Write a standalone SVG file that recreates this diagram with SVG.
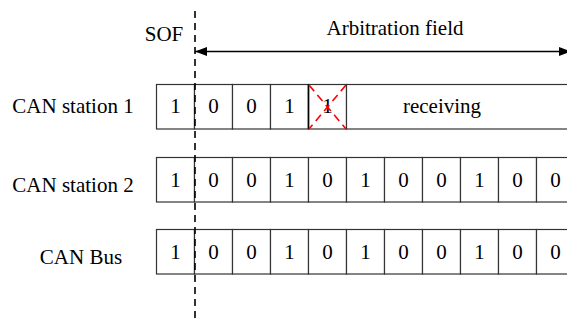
<svg xmlns="http://www.w3.org/2000/svg" width="567" height="322" viewBox="0 0 567 322">
<style>
  .t { font-family: "Liberation Serif", "Times New Roman", Tinos, "Nimbus Roman", "DejaVu Serif", serif; font-size: 21px; fill: #000; }
  .c { text-anchor: middle; }
  .cell { fill: #fff; stroke: #333; stroke-width: 1.2; }
  .x { stroke: #ff0000; stroke-width: 1.6; stroke-dasharray: 8 5; fill: none; }
</style>
<defs>
  <marker id="ah" viewBox="0 0 12 10" refX="12" refY="5" markerWidth="12" markerHeight="10" markerUnits="userSpaceOnUse" orient="auto-start-reverse">
    <path d="M0,0.5 L12,5 L0,9.5 Z" fill="#000"/>
  </marker>
</defs>
<rect width="567" height="322" fill="#fff"/>

<g id="labels">
  <text x="164" y="41" class="t c">SOF</text>
  <text x="395" y="35" class="t c">Arbitration field</text>
  <text x="73" y="113" class="t c">CAN station 1</text>
  <text x="73" y="191.5" class="t c">CAN station 2</text>
  <text x="81" y="264" class="t c">CAN Bus</text>
</g>

<g id="row1">
  <rect class="cell" x="156.5" y="84.5" width="38" height="44.5"/>
  <rect class="cell" x="194.5" y="84.5" width="38" height="44.5"/>
  <rect class="cell" x="232.5" y="84.5" width="38" height="44.5"/>
  <rect class="cell" x="270.5" y="84.5" width="38" height="44.5"/>
  <rect class="cell" x="308.5" y="84.5" width="38" height="44.5"/>
  <rect class="cell" x="346.5" y="84.5" width="240" height="44.5"/>
  <line x1="308.5" y1="84.5" x2="308.5" y2="129" stroke="#000" stroke-width="1.6"/>
  <text x="175.5" y="113" class="t c">1</text>
  <text x="213.5" y="113" class="t c">0</text>
  <text x="251.5" y="113" class="t c">0</text>
  <text x="289.5" y="113" class="t c">1</text>
  <text x="327.5" y="113" class="t c">1</text>
  <text x="442" y="113" class="t c">receiving</text>
  <line class="x" x1="309" y1="85" x2="346" y2="129"/>
  <line class="x" x1="346" y1="85" x2="309" y2="129"/>
</g>

<g id="row2">
  <rect class="cell" x="156.5" y="157.5" width="38" height="44.5"/>
  <rect class="cell" x="194.5" y="157.5" width="38" height="44.5"/>
  <rect class="cell" x="232.5" y="157.5" width="38" height="44.5"/>
  <rect class="cell" x="270.5" y="157.5" width="38" height="44.5"/>
  <rect class="cell" x="308.5" y="157.5" width="38" height="44.5"/>
  <rect class="cell" x="346.5" y="157.5" width="38" height="44.5"/>
  <rect class="cell" x="384.5" y="157.5" width="38" height="44.5"/>
  <rect class="cell" x="422.5" y="157.5" width="38" height="44.5"/>
  <rect class="cell" x="460.5" y="157.5" width="38" height="44.5"/>
  <rect class="cell" x="498.5" y="157.5" width="38" height="44.5"/>
  <rect class="cell" x="536.5" y="157.5" width="60" height="44.5"/>
  <text x="175.5" y="187" class="t c">1</text>
  <text x="213.5" y="187" class="t c">0</text>
  <text x="251.5" y="187" class="t c">0</text>
  <text x="289.5" y="187" class="t c">1</text>
  <text x="327.5" y="187" class="t c">0</text>
  <text x="365.5" y="187" class="t c">1</text>
  <text x="403.5" y="187" class="t c">0</text>
  <text x="441.5" y="187" class="t c">0</text>
  <text x="479.5" y="187" class="t c">1</text>
  <text x="517.5" y="187" class="t c">0</text>
  <text x="555.5" y="187" class="t c">0</text>
</g>

<g id="row3">
  <rect class="cell" x="156.5" y="229.5" width="38" height="44.5"/>
  <rect class="cell" x="194.5" y="229.5" width="38" height="44.5"/>
  <rect class="cell" x="232.5" y="229.5" width="38" height="44.5"/>
  <rect class="cell" x="270.5" y="229.5" width="38" height="44.5"/>
  <rect class="cell" x="308.5" y="229.5" width="38" height="44.5"/>
  <rect class="cell" x="346.5" y="229.5" width="38" height="44.5"/>
  <rect class="cell" x="384.5" y="229.5" width="38" height="44.5"/>
  <rect class="cell" x="422.5" y="229.5" width="38" height="44.5"/>
  <rect class="cell" x="460.5" y="229.5" width="38" height="44.5"/>
  <rect class="cell" x="498.5" y="229.5" width="38" height="44.5"/>
  <rect class="cell" x="536.5" y="229.5" width="60" height="44.5"/>
  <text x="175.5" y="259" class="t c">1</text>
  <text x="213.5" y="259" class="t c">0</text>
  <text x="251.5" y="259" class="t c">0</text>
  <text x="289.5" y="259" class="t c">1</text>
  <text x="327.5" y="259" class="t c">0</text>
  <text x="365.5" y="259" class="t c">1</text>
  <text x="403.5" y="259" class="t c">0</text>
  <text x="441.5" y="259" class="t c">0</text>
  <text x="479.5" y="259" class="t c">1</text>
  <text x="517.5" y="259" class="t c">0</text>
  <text x="555.5" y="259" class="t c">0</text>
</g>

<g id="connectors">
  <line x1="195" y1="11" x2="195" y2="322" stroke="#000" stroke-width="1.6" stroke-dasharray="7 5"/>
  <line x1="195" y1="51.5" x2="571" y2="51.5" stroke="#000" stroke-width="1.3" marker-start="url(#ah)" marker-end="url(#ah)"/>
</g>
</svg>
